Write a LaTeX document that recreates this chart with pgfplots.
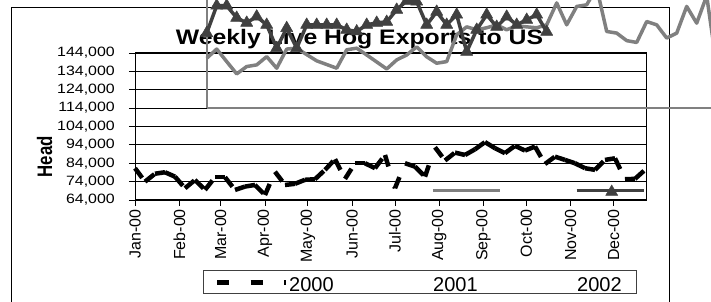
\documentclass[border=0pt]{standalone}
\usepackage{pgfplots}
\pgfplotsset{compat=1.18}
\usepackage{pgfplotstable}
\usepackage{fontspec}
\setmainfont{Liberation Sans}
\newfontfamily\titlefont{Liberation Sans}[FakeStretch=1.18]
\newfontfamily\tickfont{Liberation Sans}[FakeStretch=1.18]
\newfontfamily\headfont{Liberation Sans}[FakeStretch=0.8]
\definecolor{sgray}{RGB}{128,128,128}
\definecolor{sdark}{RGB}{64,64,64}

% 2000: each row is one weekly segment (start day, head) -> (next day, next head)
\pgfplotstableread{
day head nday nhead
0 81300 7 74000
7 74000 14 78300
14 78300 21 79100
21 79100 28 76700
28 76700 35 70400
35 70400 42 74900
42 74900 49 69500
49 69500 56 76400
56 76400 63 76400
63 76400 70 69500
70 69500 77 71300
77 71300 84 72200
84 72200 91 66700
91 66700 98 79400
98 79400 105 72200
105 72200 112 72800
112 72800 119 75000
119 75000 126 75300
126 75300 133 80400
133 80400 140 86200
140 86200 147 75500
147 75500 154 84000
154 84000 161 84000
161 84000 168 81300
168 81300 175 88500
175 88500 182 70400
182 70400 189 84000
189 84000 196 82200
196 82200 203 76700
203 76700 210 92700
210 92700 217 85500
217 85500 224 89800
224 89800 231 88500
231 88500 238 91600
238 91600 245 95500
245 95500 252 92200
252 92200 259 89500
259 89500 266 93500
266 93500 273 90900
273 90900 280 93100
280 93100 287 83600
287 83600 294 87600
294 87600 301 85800
301 85800 308 84000
308 84000 315 81300
315 81300 322 80400
322 80400 329 85800
329 85800 336 86700
336 86700 343 75300
343 75300 350 75500
350 75500 357 80400
}\yrA

\pgfplotstableread{
day head
0 90900
7 95900
14 89100
21 82400
28 86400
35 87300
42 91800
49 85500
56 95900
63 96400
70 92900
77 89500
84 87500
91 85500
98 95500
105 96400
112 92700
119 88900
126 85100
133 90000
140 92700
147 97100
154 91700
161 88200
168 89100
175 103700
182 108000
189 106400
196 107500
203 109100
210 106400
217 108600
224 108000
231 107500
238 109100
245 121000
252 109100
259 119100
266 120000
273 129300
280 105500
287 104600
294 100500
301 99500
308 110900
315 109100
322 101900
329 104600
336 119100
343 110000
350 124900
357 86700
}\yrB

\pgfplotstableread{
day head
0 104600
7 119500
14 119500
21 112900
28 110200
35 113600
42 109100
49 96400
56 107300
63 96400
70 109100
77 109100
84 109100
91 109100
98 106400
105 105500
112 109100
119 110200
126 110700
133 117300
140 122200
147 121700
154 109100
161 116200
168 109100
175 114600
182 94400
189 106400
196 114600
203 108000
210 113500
217 109100
224 111800
231 114600
238 105300
}\yrC

\begin{document}
\begin{tikzpicture}[x=1pt,y=1pt]
\path[use as bounding box] (0,0) rectangle (711,302);
\clip (0,0) rectangle (711,302);
\draw[black, line width=1.2pt] (11.7,294.7) rectangle (669.3,-10);
\node[font=\titlefont\bfseries\fontsize{21}{24}\selectfont, anchor=base, inner sep=0pt] at (359.5,257) {Weekly Live Hog Exports to US};

\begin{axis}[
  at={(135pt,102pt)}, anchor=south west,
  scale only axis, width=511.7pt, height=147pt,
  xmin=0, xmax=358.2, ymin=64000, ymax=144000,
  enlargelimits=false, clip=false,
  xtick={0,31,60,91,121,152,182,213,244,274,305,335},
  xticklabels={Jan-00,Feb-00,Mar-00,Apr-00,May-00,Jun-00,Jul-00,Aug-00,Sep-00,Oct-00,Nov-00,Dec-00},
  ytick={64000,74000,84000,94000,104000,114000,124000,134000,144000},
  scaled y ticks=false,
  /pgf/number format/assume math mode=true,
  tick pos=left, tick align=outside, major tick length=6pt,
  tick style={black, line width=0.9pt},
  axis line style={black, line width=1pt},
  ymajorgrids, major grid style={black, line width=0.9pt},
  yticklabel style={/pgf/number format/fixed, /pgf/number format/1000 sep={,},
    font=\tickfont\fontsize{13.5}{15}\selectfont, inner sep=0pt, anchor=east, xshift=-14pt},
  xticklabel style={font=\fontsize{16}{18}\selectfont, rotate=90, anchor=east, inner sep=0pt, xshift=-3pt},
]
\addplot[black, line width=4.5pt, line cap=butt, dash pattern=on 12pt off 21pt,
  quiver={u=\thisrow{nday}-\thisrow{day}, v=\thisrow{nhead}-\thisrow{head}},
  quiver/every arrow/.append style={dash pattern=on 12pt off 21pt, line width=4.5pt, -}]
  table[x=day,y=head] {\yrA};
\addplot[sgray, line width=3.5pt, forget plot] coordinates {(208.6,69100) (255.5,69100)};
\addplot[sdark, line width=3.5pt, forget plot] coordinates {(309.2,69100) (356.3,69100)};
\addplot[sdark, only marks, mark=triangle*, mark size=7pt, forget plot] coordinates {(333.7,68400)};
\end{axis}

\begin{axis}[
  at={(206.7pt,194.3pt)}, anchor=south west,
  scale only axis, width=511.7pt, height=147pt,
  xmin=0, xmax=358.2, ymin=64000, ymax=144000,
  enlargelimits=false, clip=false,
  axis lines=left, axis line style={sgray, line width=2pt, -},
  xtick=\empty, ytick=\empty,
]
\addplot[sgray, line width=3.5pt, line join=round] table[x=day,y=head] {\yrB};
\addplot[sdark, line width=3.5pt, line join=round, mark=triangle*, mark size=7pt, mark options={solid, fill=sdark, draw=sdark, line width=0.5pt}] table[x=day,y=head] {\yrC};
\end{axis}

\node[rotate=90, font=\headfont\bfseries\fontsize{21}{24}\selectfont, inner sep=0pt] at (44.5,145.3) {Head};

\draw[black!75, line width=1pt] (203,8) rectangle (636,31);
\draw[black, line width=4.5pt, dash pattern=on 12pt off 21.7pt] (217,19.3) -- (286,19.3);
\node[anchor=base west, font=\fontsize{20}{22}\selectfont, inner sep=0pt] at (289,10.3) {2000};
\node[anchor=base west, font=\fontsize{20}{22}\selectfont, inner sep=0pt] at (433,10.3) {2001};
\node[anchor=base west, font=\fontsize{20}{22}\selectfont, inner sep=0pt] at (577,10.3) {2002};
\end{tikzpicture}
\end{document}
